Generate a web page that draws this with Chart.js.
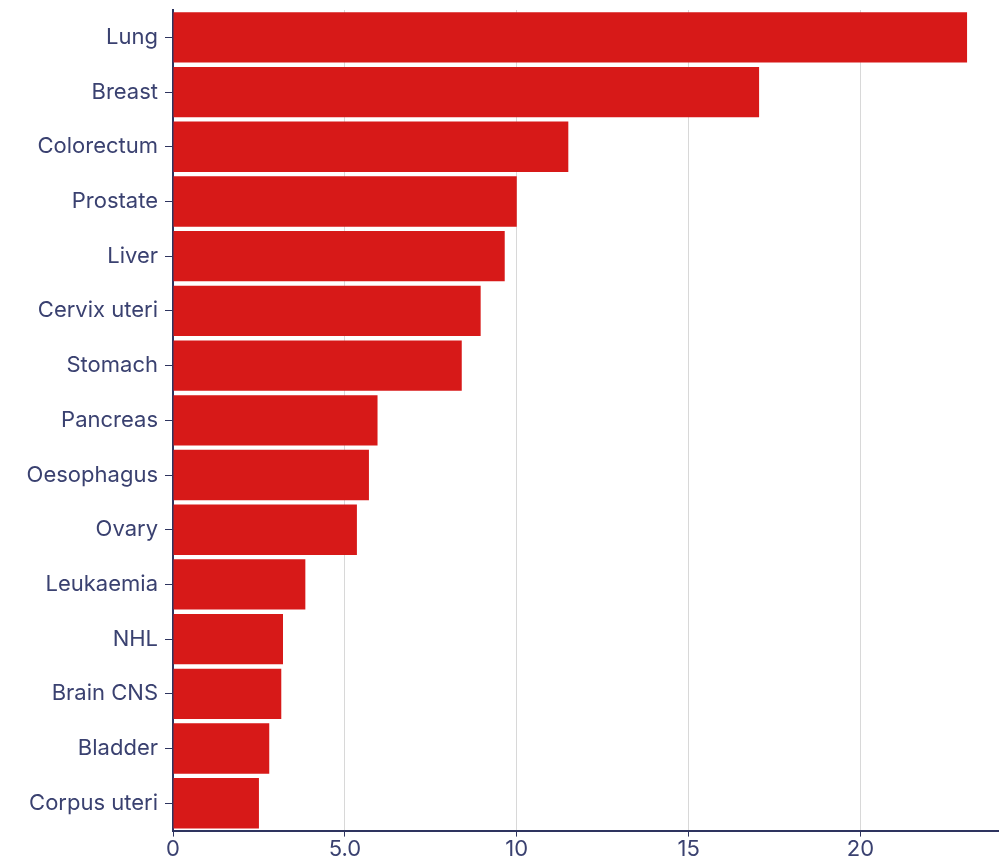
<!DOCTYPE html>
<html>
<head>
<meta charset="utf-8">
<script src="https://cdn.jsdelivr.net/npm/chart.js@4"></script>
<style>
  html, body { margin: 0; padding: 0; background: #fff; }
  #wrap { width: 1002px; height: 863px; }
</style>
</head>
<body>
<div id="wrap"><canvas id="chart"></canvas></div>
<script>
const sites = ['Lung', 'Breast', 'Colorectum', 'Prostate', 'Liver', 'Cervix uteri', 'Stomach',
  'Pancreas', 'Oesophagus', 'Ovary', 'Leukaemia', 'NHL', 'Brain CNS', 'Bladder', 'Corpus uteri'];
const values = [23.1, 17.05, 11.5, 10.0, 9.65, 8.95, 8.4, 5.95, 5.7, 5.35, 3.85, 3.2, 3.15, 2.8, 2.5];
const tickValues = [0, 5, 10, 15, 20];
const tickLabels = ['0', '5.0', '10', '15', '20'];

const navy = '#2e345f';

Chart.defaults.font.family = 'Inter, "Noto Sans", sans-serif';
Chart.defaults.font.size = 22;
Chart.defaults.color = '#3a4170';

new Chart(document.getElementById('chart'), {
  type: 'bar',
  data: {
    labels: sites,
    datasets: [{
      data: values,
      backgroundColor: '#d71918',
      borderWidth: 0,
      barPercentage: 1,
      categoryPercentage: 0.92
    }]
  },
  options: {
    indexAxis: 'y',
    responsive: true,
    maintainAspectRatio: false,
    animation: false,
    layout: { padding: { top: 10, right: 4, bottom: 0, left: 0 } },
    plugins: { legend: { display: false }, tooltip: { enabled: false } },
    scales: {
      x: {
        min: 0,
        max: 24,
        afterBuildTicks: axis => { axis.ticks = tickValues.map(v => ({ value: v })); },
        ticks: {
          padding: 0,
          callback: (v) => tickLabels[tickValues.indexOf(v)]
        },
        grid: { color: '#d8d8d8', tickColor: navy, tickLength: 6, lineWidth: 1 },
        border: { color: navy, width: 2 }
      },
      y: {
        afterFit: axis => {
          axis.width = 173;
          axis.paddingTop = 0;
          axis.paddingBottom = 0;
        },
        ticks: { padding: 7 },
        grid: { offset: false, drawOnChartArea: false, tickColor: navy, tickLength: 8 },
        border: { color: navy, width: 2 }
      }
    }
  }
});
</script>
</body>
</html>
